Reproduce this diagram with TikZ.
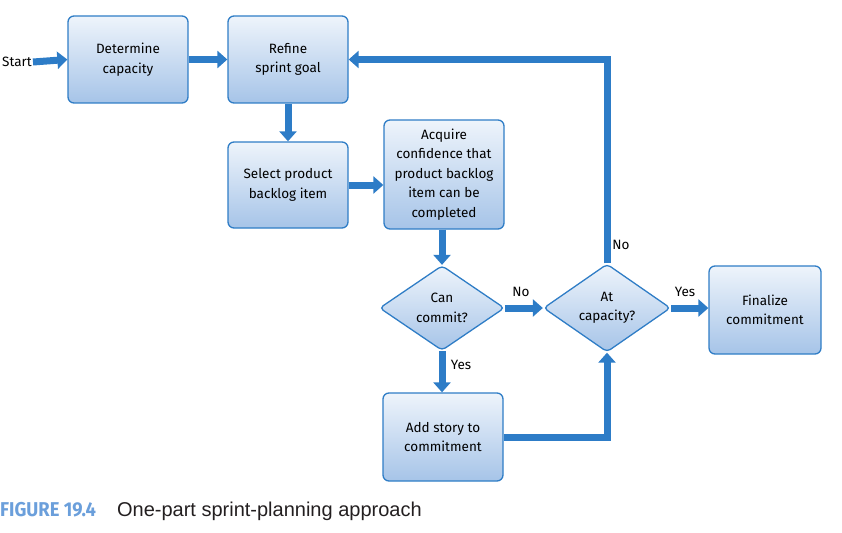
\documentclass[tikz,border=0pt]{standalone}
\usepackage{fontspec}
\setmainfont{Fira Sans}
\newfontfamily\capfont{Liberation Sans}
\newfontfamily\figfont{Fira Sans}
\usetikzlibrary{arrows.meta,shapes.geometric}
\definecolor{boxtop}{HTML}{EEF4FB}
\definecolor{boxbot}{HTML}{A6C4E8}
\definecolor{boxline}{HTML}{2F7DC6}
\definecolor{arr}{HTML}{2D7CC7}
\definecolor{figblue}{HTML}{6B9FDB}
\definecolor{captxt}{HTML}{231F20}
\tikzset{
  box/.style={draw=boxline, line width=1.3pt, rounded corners=6pt,
    top color=boxtop, bottom color=boxbot, align=center,
    font=\fontsize{13.5}{19.5}\selectfont, text=black, inner sep=2pt},
  dia/.style={diamond, draw=boxline, line width=1.3pt, rounded corners=4pt,
    top color=boxtop, bottom color=boxbot, align=center, inner sep=0pt,
    font=\fontsize{13.5}{19.5}\selectfont, text=black},
  flow/.style={draw=arr, line width=7pt,
    -{Triangle[length=10pt,width=17pt]}},
  lab/.style={font=\fontsize{13.5}{15}\selectfont, text=black, inner sep=1pt}
}
\begin{document}
\begin{tikzpicture}[x=1pt,y=-1pt]
\useasboundingbox (0,0) rectangle (842,532);
\node[lab, anchor=west] (start) at (1,62) {Start};
\node[box, minimum width=120pt, minimum height=87pt] (det) at (128,59.5) {Determine\\capacity};
\node[box, minimum width=120pt, minimum height=87pt] (ref) at (288,59.5) {Refine\\sprint goal};
\node[box, minimum width=120pt, minimum height=86pt] (sel) at (288,185) {Select product\\backlog item};
\node[box, minimum width=120pt, minimum height=109pt] (acq) at (444,174.5) {Acquire\\confidence that\\product backlog\\item can be\\completed};
\node[dia, minimum width=125pt, minimum height=85pt] (can) at (442,308) {Can\\commit?};
\node[dia, minimum width=127pt, minimum height=86pt] (atc) at (607,308) {At\\capacity?};
\node[box, minimum width=112pt, minimum height=88pt] (fin) at (765,310) {Finalize\\commitment};
\node[box, minimum width=120pt, minimum height=88pt] (add) at (443,437) {Add story to\\commitment};
\draw[flow] (start.east) -- (det.west);
\draw[flow] (det.east) -- (ref.west);
\draw[flow] (ref.south) -- (sel.north);
\draw[flow] (sel.east) -- (sel.east -| acq.west);
\draw[flow] (acq.south -| can.north) -- (can.north);
\draw[flow] (can.east) -- (atc.west);
\draw[flow] (can.south) -- (can.south |- add.north);
\draw[flow] (atc.east) -- (atc.east -| fin.west);
\draw[flow] (add.east) -| (atc.south);
\draw[flow] (atc.north) |- (ref.east);
\node[lab] (l1) at (521,292) {No};
\node[lab] (l2) at (685,292) {Yes};
\node[lab] (l3) at (621,245) {No};
\node[lab] (l4) at (461,365) {Yes};
\node[anchor=west, inner sep=0pt] (cap) at (0,511)
  {\figfont\bfseries\fontsize{20}{22}\selectfont\color{figblue}\scalebox{0.92}[1]{FIGURE 19.4}\hspace{21pt}\capfont\mdseries\color{captxt}\fontsize{20}{22}\selectfont One-part sprint-planning approach};
\end{tikzpicture}
\end{document}
